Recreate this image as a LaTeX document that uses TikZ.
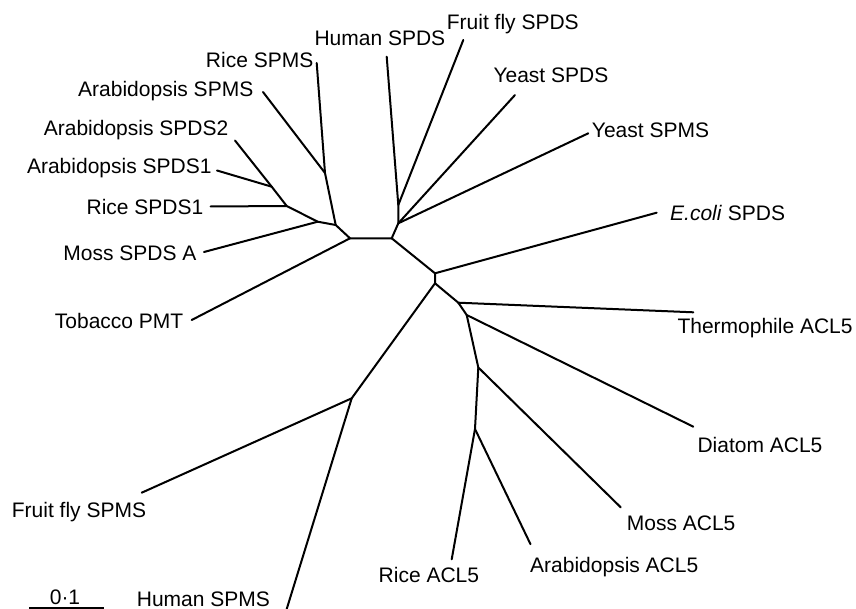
\documentclass[tikz,border=0pt]{standalone}
\usepackage{fontspec}
\setmainfont{Liberation Sans}
\usepackage{tikz}

\begin{document}
\begin{tikzpicture}[x=1pt, y=-1pt,
        branch/.style={line width=2pt, line cap=round, line join=round},
        leafL/.style={anchor=base east, inner sep=0pt, font=\fontsize{21}{25}\selectfont},
        leafR/.style={anchor=base west, inner sep=0pt, font=\fontsize{21}{25}\selectfont}]
        \useasboundingbox (0,0) rectangle (856,609);

        % inner vertices
        \coordinate (cL) at (350,238.3);
        \coordinate (cR) at (391.7,238.3);
        \coordinate (spms) at (335.7,225);
        \coordinate (arspms) at (325,173);
        \coordinate (moss) at (317.7,221.7);
        \coordinate (rice) at (286.7,206);
        \coordinate (arspds) at (271.7,186.7);
        \coordinate (yeast) at (398.3,223.3);
        \coordinate (human) at (398.3,205);
        \coordinate (ecoli) at (435,273.3);
        \coordinate (acl) at (435,283.3);
        \coordinate (animal) at (351.7,398.3);
        \coordinate (thermo) at (458.3,302.7);
        \coordinate (diatom) at (466.7,315);
        \coordinate (mossacl) at (478.3,367.5);
        \coordinate (plantacl) at (475,429);

        % tips
        \coordinate (tRiceSPMS) at (316.7,63);
        \coordinate (tArSPMS) at (263,92);
        \coordinate (tArSPDSb) at (235,140.5);
        \coordinate (tArSPDSa) at (217,170.5);
        \coordinate (tRiceSPDS) at (210.7,206.5);
        \coordinate (tMossSPDS) at (204,252);
        \coordinate (tTobacco) at (191.7,320);
        \coordinate (tHumanSPDS) at (386.7,56.7);
        \coordinate (tFlySPDS) at (463.3,40);
        \coordinate (tYeastSPDS) at (515,95);
        \coordinate (tYeastSPMS) at (588.3,133.3);
        \coordinate (tEcoli) at (656.7,212.7);
        \coordinate (tThermo) at (693.3,312.3);
        \coordinate (tDiatom) at (693.3,426.7);
        \coordinate (tMossACL) at (620.7,507.3);
        \coordinate (tArACL) at (530.5,544.2);
        \coordinate (tRiceACL) at (451.7,559.3);
        \coordinate (tFlySPMS) at (141.7,492.7);
        \coordinate (tHumanSPMS) at (286.7,609);

        % plant SPDS / SPMS side
        \draw[branch] (cR) -- (cL) -- (spms) -- (moss) -- (rice) -- (arspds);
        \draw[branch] (spms) -- (arspms) -- (tRiceSPMS);
        \draw[branch] (arspms) -- (tArSPMS);
        \draw[branch] (arspds) -- (tArSPDSb);
        \draw[branch] (arspds) -- (tArSPDSa);
        \draw[branch] (rice) -- (tRiceSPDS);
        \draw[branch] (moss) -- (tMossSPDS);
        \draw[branch] (cL) -- (tTobacco);

        % animal / yeast SPDS
        \draw[branch] (cR) -- (yeast) -- (human) -- (tHumanSPDS);
        \draw[branch] (human) -- (tFlySPDS);
        \draw[branch] (yeast) -- (tYeastSPDS);
        \draw[branch] (yeast) -- (tYeastSPMS);

        % ACL5 and animal SPMS
        \draw[branch] (cR) -- (ecoli) -- (tEcoli);
        \draw[branch] (ecoli) -- (acl) -- (animal) -- (tFlySPMS);
        \draw[branch] (animal) -- (tHumanSPMS);
        \draw[branch] (acl) -- (thermo) -- (tThermo);
        \draw[branch] (thermo) -- (diatom) -- (tDiatom);
        \draw[branch] (diatom) -- (mossacl) -- (tMossACL);
        \draw[branch] (mossacl) -- (plantacl) -- (tArACL);
        \draw[branch] (plantacl) -- (tRiceACL);

        % labels
        \node[leafL] (lRiceSPMS) at (313.5,68) {Rice SPMS};
        \node[leafL] (lArSPMS) at (253.5,97) {Arabidopsis SPMS};
        \node[leafL] (lArSPDSb) at (228.5,136) {Arabidopsis SPDS2};
        \node[leafL] (lArSPDSa) at (211.7,174) {Arabidopsis SPDS1};
        \node[leafL] (lRiceSPDS) at (203.5,215) {Rice SPDS1};
        \node[leafL] (lMossSPDS) at (196.7,261) {Moss SPDS A};
        \node[leafL] (lTobacco) at (183.5,329) {Tobacco PMT};
        \node[leafR] (lFlySPMS) at (11.7,517.5) {Fruit fly SPMS};
        \node[leafR] (lHumanSPMS) at (136.7,606) {Human SPMS};
        \node[leafL] (lRiceACL) at (479.3,582.5) {Rice ACL5};
        \node[leafR] (lArACL) at (530,572.5) {Arabidopsis ACL5};
        \node[leafR] (lMossACL) at (626.7,530) {Moss ACL5};
        \node[leafR] (lDiatom) at (697.3,452.5) {Diatom ACL5};
        \node[leafR] (lThermo) at (677.3,334) {Thermophile ACL5};
        \node[leafR] (lEcoli) at (670,221) {\textit{E.coli} SPDS};
        \node[leafR] (lYeastSPMS) at (591.7,137.5) {Yeast SPMS};
        \node[leafR] (lYeastSPDS) at (493.3,82.5) {Yeast SPDS};
        \node[leafR] (lFlySPDS) at (446.7,30) {Fruit fly SPDS};
        \node[leafR] (lHumanSPDS) at (314.3,46) {Human SPDS};

        % scale bar
        \coordinate (sbA) at (29.3,608);
        \coordinate (sbB) at (104,608);
        \draw[line width=1.4pt] (sbA) -- (sbB);
        \node[anchor=base, inner sep=0pt, font=\fontsize{21}{25}\selectfont] (sbLabel) at (65,604) {0·1};
\end{tikzpicture}
\end{document}
